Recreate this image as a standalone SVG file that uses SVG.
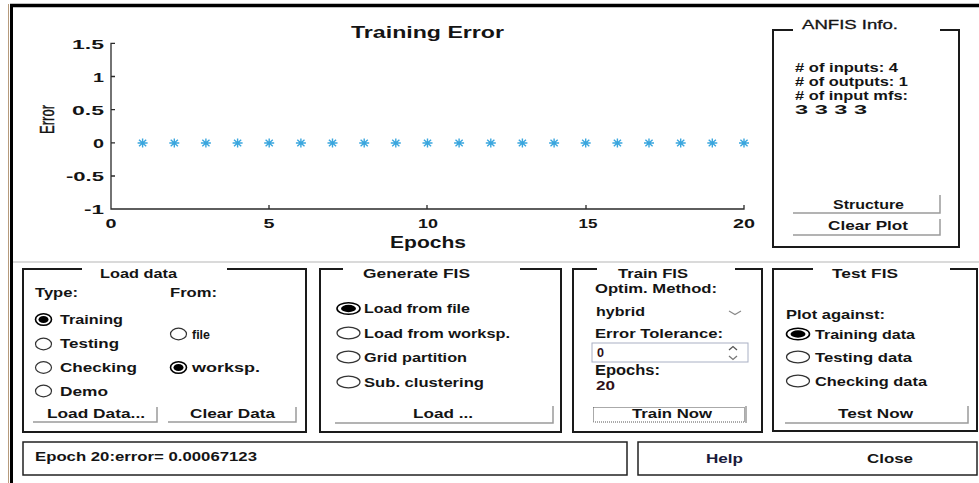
<svg xmlns="http://www.w3.org/2000/svg" xmlns:xlink="http://www.w3.org/1999/xlink" width="979" height="483" viewBox="0 0 979 483">
<style>
text{font-family:"Liberation Sans",Arial,sans-serif;font-weight:bold;fill:#141414;font-size:13.5px}
.t15{font-size:16px}
.tk{font-size:13.5px}
.t12{font-size:13px}
.t11{font-size:12.5px}
.t13{font-size:14.5px}
.frame{fill:none;stroke:#1a1a1a;stroke-width:2}
.btn{fill:none;stroke:#9a9a9a;stroke-width:1.5}
.ax{fill:none;stroke:#2a2a2a;stroke-width:1.3}
.rad{fill:#fff;stroke:#333;stroke-width:1.2}
.dot{fill:#000}
.box{fill:none;stroke:#222;stroke-width:1.5}
</style>
<defs>
<g id="star" stroke="#3aa6de" stroke-width="1.4" fill="none">
<path d="M-5,0H5M0,-4.5V4.5M-3.6,-3.2L3.6,3.2M-3.6,3.2L3.6,-3.2"/>
</g>
</defs>
<rect width="979" height="483" fill="#fff"/>
<g id="window">
<line x1="8.5" y1="4" x2="8.5" y2="483" stroke="#b79b7c" stroke-width="1"/>
<line x1="11.5" y1="4" x2="11.5" y2="483" stroke="#000" stroke-width="3"/>
<line x1="10" y1="5.5" x2="979" y2="5.5" stroke="#000" stroke-width="3.5"/>
<line x1="13" y1="262" x2="979" y2="262" stroke="#b5b5b5" stroke-width="1"/>
</g>
<g id="plot">
<text x="351" y="38" class="t15" textLength="153" lengthAdjust="spacingAndGlyphs">Training Error</text>
<path class="ax" d="M115,43.3H111V209H744V205M111,76.5H115M111,109.7H115M111,142.8H115M111,176H115M269,209V205M427,209V205M586,209V205"/>
<g text-anchor="end">
<text x="104" y="48.5" class="tk" textLength="32" lengthAdjust="spacingAndGlyphs">1.5</text>
<text x="104" y="81.5" class="tk" textLength="11" lengthAdjust="spacingAndGlyphs">1</text>
<text x="104" y="114.5" class="tk" textLength="32" lengthAdjust="spacingAndGlyphs">0.5</text>
<text x="104" y="147.5" class="tk" textLength="11" lengthAdjust="spacingAndGlyphs">0</text>
<text x="104" y="181" class="tk" textLength="38" lengthAdjust="spacingAndGlyphs">-0.5</text>
<text x="104" y="214" class="tk" textLength="20" lengthAdjust="spacingAndGlyphs">-1</text>
</g>
<g text-anchor="middle">
<text x="111" y="228" class="tk" textLength="11" lengthAdjust="spacingAndGlyphs">0</text>
<text x="269" y="228" class="tk" textLength="11" lengthAdjust="spacingAndGlyphs">5</text>
<text x="428" y="228" class="tk" textLength="20" lengthAdjust="spacingAndGlyphs">10</text>
<text x="588" y="228" class="tk" textLength="19" lengthAdjust="spacingAndGlyphs">15</text>
<text x="744" y="228" class="tk" textLength="22" lengthAdjust="spacingAndGlyphs">20</text>
</g>
<text x="390" y="248" class="t15" textLength="76" lengthAdjust="spacingAndGlyphs">Epochs</text>
<text transform="translate(53.5,134) rotate(-90) scale(1,1.35)" x="0" y="0" class="t13" style="font-weight:normal;stroke:#141414;stroke-width:0.3" textLength="29" lengthAdjust="spacingAndGlyphs">Error</text>
<g id="markers">
<use xlink:href="#star" x="142.6" y="143"/>
<use xlink:href="#star" x="174.3" y="143"/>
<use xlink:href="#star" x="205.9" y="143"/>
<use xlink:href="#star" x="237.6" y="143"/>
<use xlink:href="#star" x="269.2" y="143"/>
<use xlink:href="#star" x="300.9" y="143"/>
<use xlink:href="#star" x="332.5" y="143"/>
<use xlink:href="#star" x="364.2" y="143"/>
<use xlink:href="#star" x="395.8" y="143"/>
<use xlink:href="#star" x="427.5" y="143"/>
<use xlink:href="#star" x="459.1" y="143"/>
<use xlink:href="#star" x="490.8" y="143"/>
<use xlink:href="#star" x="522.4" y="143"/>
<use xlink:href="#star" x="554.1" y="143"/>
<use xlink:href="#star" x="585.7" y="143"/>
<use xlink:href="#star" x="617.4" y="143"/>
<use xlink:href="#star" x="649" y="143"/>
<use xlink:href="#star" x="680.7" y="143"/>
<use xlink:href="#star" x="712.3" y="143"/>
<use xlink:href="#star" x="744" y="143"/>
</g>
</g>
<g id="anfis-info">
<path class="frame" d="M793,30H773V247H959V30H940"/>
<text x="802" y="29" class="t12" style="font-weight:normal;stroke:#141414;stroke-width:0.3" textLength="96" lengthAdjust="spacingAndGlyphs">ANFIS Info.</text>
<text x="795" y="72" class="t11" textLength="103" lengthAdjust="spacingAndGlyphs"># of inputs: 4</text>
<text x="795" y="86" class="t11" textLength="113" lengthAdjust="spacingAndGlyphs"># of outputs: 1</text>
<text x="795" y="100" class="t11" textLength="113" lengthAdjust="spacingAndGlyphs"># of input mfs:</text>
<text x="795" y="114" class="t11" textLength="72" lengthAdjust="spacingAndGlyphs">3 3 3 3</text>
<g id="btn-structure">
<path class="btn" d="M793,213H940V195"/>
<text x="833" y="209" class="t12" textLength="71" lengthAdjust="spacingAndGlyphs">Structure</text>
</g>
<g id="btn-clearplot">
<path class="btn" d="M793,235H940V219"/>
<text x="828" y="230" class="t12" textLength="80" lengthAdjust="spacingAndGlyphs">Clear Plot</text>
</g>
</g>
<g id="load-data">
<path class="frame" d="M82,269H23V432H306V269H227"/>
<text x="100" y="278" textLength="77" lengthAdjust="spacingAndGlyphs">Load data</text>
<text x="35" y="297" textLength="43" lengthAdjust="spacingAndGlyphs">Type:</text>
<text x="170" y="297" textLength="47" lengthAdjust="spacingAndGlyphs">From:</text>
<ellipse class="rad" cx="43.5" cy="319.5" rx="8" ry="5.8" style="stroke:#000;stroke-width:1.6"/>
<ellipse class="dot" cx="43.5" cy="319.5" rx="5" ry="3.6"/>
<ellipse class="rad" cx="43.5" cy="344" rx="8" ry="5.8"/>
<ellipse class="rad" cx="43.5" cy="367.5" rx="8" ry="5.8"/>
<ellipse class="rad" cx="43.5" cy="391" rx="8" ry="5.8"/>
<text x="60" y="323.5" textLength="63" lengthAdjust="spacingAndGlyphs">Training</text>
<text x="60" y="348" textLength="59" lengthAdjust="spacingAndGlyphs">Testing</text>
<text x="60" y="372" textLength="77" lengthAdjust="spacingAndGlyphs">Checking</text>
<text x="60" y="395.5" textLength="48" lengthAdjust="spacingAndGlyphs">Demo</text>
<ellipse class="rad" cx="178.5" cy="334" rx="8" ry="5.8"/>
<ellipse class="rad" cx="178.5" cy="367.5" rx="8" ry="5.8" style="stroke:#000;stroke-width:1.6"/>
<ellipse class="dot" cx="178.5" cy="367.5" rx="5" ry="3.6"/>
<text x="192" y="338.5" textLength="18" lengthAdjust="spacingAndGlyphs">file</text>
<text x="192" y="372" textLength="68" lengthAdjust="spacingAndGlyphs">worksp.</text>
<g id="btn-loaddata">
<path class="btn" d="M33,422H157V407"/>
<text x="47" y="418" textLength="98" lengthAdjust="spacingAndGlyphs">Load Data...</text>
</g>
<g id="btn-cleardata">
<path class="btn" d="M168,422H296V407"/>
<text x="190" y="418" textLength="85" lengthAdjust="spacingAndGlyphs">Clear Data</text>
</g>
</g>
<g id="generate-fis">
<path class="frame" d="M343,269H320V432H561V269H520"/>
<text x="363" y="278" textLength="107" lengthAdjust="spacingAndGlyphs">Generate FIS</text>
<ellipse class="rad" cx="348.5" cy="308.5" rx="11.5" ry="5.8" style="stroke:#000;stroke-width:1.6"/>
<ellipse class="dot" cx="348.5" cy="308.5" rx="7.5" ry="3.7"/>
<ellipse class="rad" cx="348.5" cy="333" rx="11.5" ry="5.8"/>
<ellipse class="rad" cx="348.5" cy="357" rx="11.5" ry="5.8"/>
<ellipse class="rad" cx="348.5" cy="382" rx="11.5" ry="5.8"/>
<text x="364" y="313" textLength="106" lengthAdjust="spacingAndGlyphs">Load from file</text>
<text x="364" y="338" textLength="146" lengthAdjust="spacingAndGlyphs">Load from worksp.</text>
<text x="364" y="362" textLength="103" lengthAdjust="spacingAndGlyphs">Grid partition</text>
<text x="364" y="386.5" textLength="120" lengthAdjust="spacingAndGlyphs">Sub. clustering</text>
<g id="btn-load">
<path class="btn" d="M335,423H553V406"/>
<text x="413" y="418" textLength="60" lengthAdjust="spacingAndGlyphs">Load ...</text>
</g>
</g>
<g id="train-fis">
<path class="frame" d="M597,269H573V432H762V269H735"/>
<text x="618" y="278" textLength="70" lengthAdjust="spacingAndGlyphs">Train FIS</text>
<text x="595" y="293" textLength="122" lengthAdjust="spacingAndGlyphs">Optim. Method:</text>
<text x="596" y="316" textLength="49" lengthAdjust="spacingAndGlyphs">hybrid</text>
<polyline points="729,311 735,314.5 741,311" fill="none" stroke="#8a8a8a" stroke-width="1.2"/>
<text x="595" y="338" textLength="128" lengthAdjust="spacingAndGlyphs">Error Tolerance:</text>
<rect x="592" y="343" width="156" height="19" fill="#fff" stroke="#a9b0c4" stroke-width="1"/>
<text x="597" y="357" textLength="7" lengthAdjust="spacingAndGlyphs" style="fill:#301018">0</text>
<polyline points="729,350 733,346.5 737,350" fill="none" stroke="#555" stroke-width="1.3"/>
<polyline points="729,356 733,359.5 737,356" fill="none" stroke="#777" stroke-width="1.3"/>
<text x="595" y="375" class="t13" textLength="65" lengthAdjust="spacingAndGlyphs">Epochs:</text>
<text x="596" y="390" textLength="19" lengthAdjust="spacingAndGlyphs" style="fill:#301018">20</text>
<g id="btn-trainnow">
<rect x="593.5" y="407.5" width="151" height="14.5" fill="none" stroke="#555" stroke-width="1" stroke-dasharray="1,1"/>
<path class="btn" d="M746,406V423"/>
<text x="632" y="418" textLength="80" lengthAdjust="spacingAndGlyphs">Train Now</text>
</g>
</g>
<g id="test-fis">
<path class="frame" d="M813,269H773V431H977V269H950"/>
<text x="832" y="278" textLength="66" lengthAdjust="spacingAndGlyphs">Test FIS</text>
<text x="786" y="319" textLength="99" lengthAdjust="spacingAndGlyphs">Plot against:</text>
<ellipse class="rad" cx="798" cy="334" rx="11.5" ry="5.8" style="stroke:#000;stroke-width:1.6"/>
<ellipse class="dot" cx="798" cy="334" rx="7.5" ry="3.7"/>
<ellipse class="rad" cx="798" cy="357" rx="11.5" ry="5.8"/>
<ellipse class="rad" cx="798" cy="381" rx="11.5" ry="5.8"/>
<text x="815" y="338.5" textLength="100" lengthAdjust="spacingAndGlyphs">Training data</text>
<text x="815" y="362" textLength="97" lengthAdjust="spacingAndGlyphs">Testing data</text>
<text x="815" y="386" textLength="112" lengthAdjust="spacingAndGlyphs">Checking data</text>
<g id="btn-testnow">
<path class="btn" d="M785,423H968V406"/>
<text x="838" y="418" textLength="75" lengthAdjust="spacingAndGlyphs">Test Now</text>
</g>
</g>
<g id="status">
<rect class="box" x="23" y="442" width="604" height="33"/>
<text x="35" y="461" textLength="222" lengthAdjust="spacingAndGlyphs">Epoch 20:error= 0.00067123</text>
</g>
<g id="help-close">
<rect class="box" x="638" y="442" width="339" height="33"/>
<text x="706" y="463" textLength="37" lengthAdjust="spacingAndGlyphs" style="fill:#1a1a3a">Help</text>
<text x="867" y="463" textLength="46" lengthAdjust="spacingAndGlyphs">Close</text>
</g>
<g id="connectors"/>
</svg>
